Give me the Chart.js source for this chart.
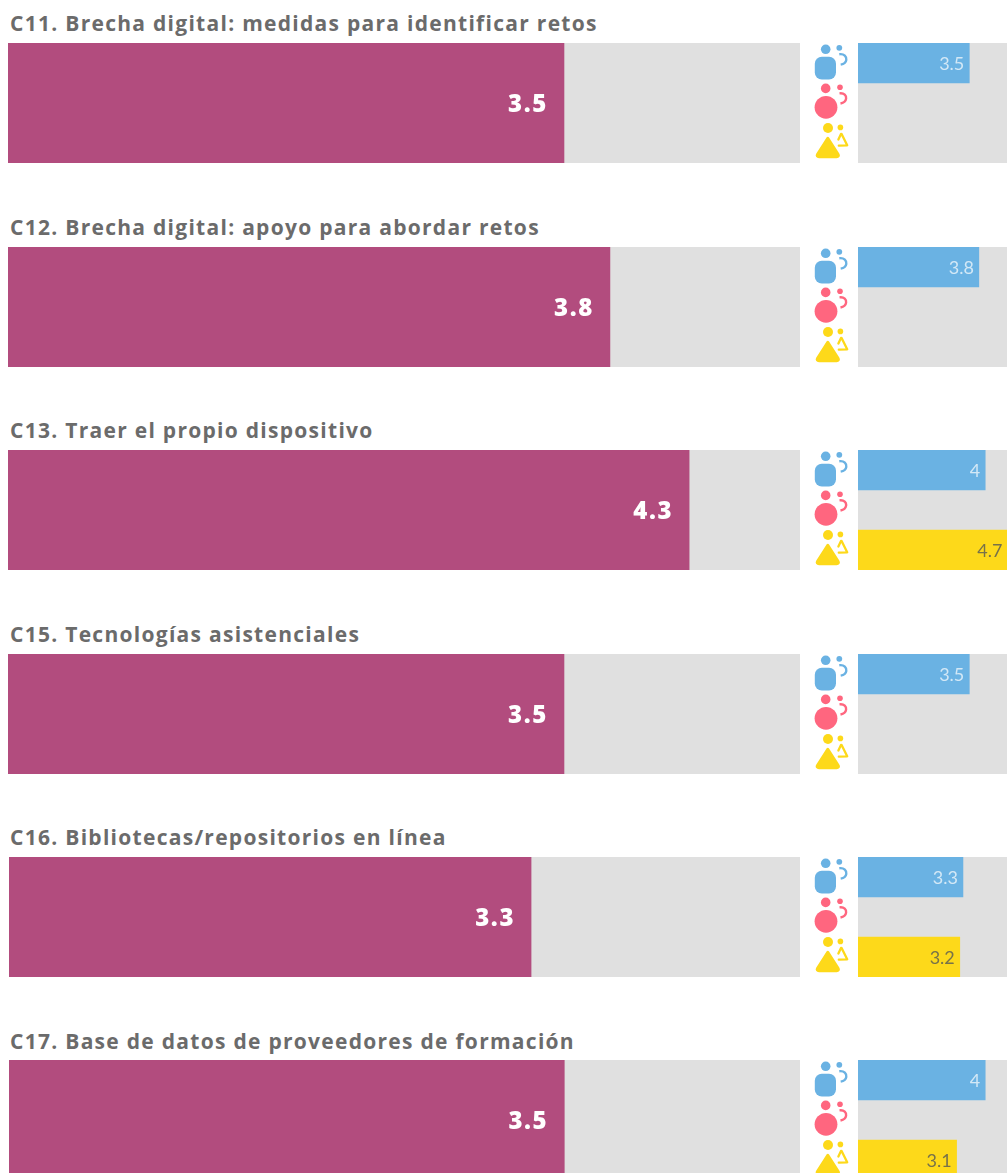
<!DOCTYPE html>
<html lang="es">
<head>
<meta charset="utf-8">
<title>Brecha digital</title>
<script src="https://cdn.jsdelivr.net/npm/chart.js@4"></script>
<style>
html,body{margin:0;padding:0;background:#fff;width:1007px;height:1173px;overflow:hidden}
#page{position:relative;width:1007px;height:1173px;overflow:hidden}
canvas{position:absolute;display:block}
.t{position:absolute;left:10px;font:700 21px/24px "Open Sans",sans-serif;letter-spacing:1.28px;color:#6b6b6b;white-space:nowrap}
svg.i{position:absolute;left:810px;width:42px;height:120px;overflow:visible}
</style>
</head>
<body>
<div id="page"></div>
<svg width="0" height="0" style="position:absolute">
<defs>
<symbol id="icons" viewBox="810 43 42 120" overflow="visible">
<g fill="#6ab2e3"><circle cx="825.7" cy="49.3" r="4.8"/><circle cx="839.3" cy="47.8" r="2.9"/><rect x="814.8" y="56.8" width="21.2" height="22.8" rx="7"/><path d="M839.3 54.2c5-.7 7.4 2.6 7 5.6-.3 2.4-2.2 4.2-5.6 4.8" fill="none" stroke="#6ab2e3" stroke-width="2.4"/></g>
<g fill="#ff667f"><circle cx="825.7" cy="88.4" r="4.8"/><circle cx="840" cy="87.3" r="2.8"/><circle cx="826" cy="107.3" r="11.4"/><path d="M839.5 93.4c4.8-.6 7 2.4 6.6 5.2-.3 2.4-2.2 4.2-5.6 4.9" fill="none" stroke="#ff667f" stroke-width="2.4"/></g>
<g fill="#fdd91a"><circle cx="828" cy="128" r="5"/><circle cx="840.4" cy="127.4" r="2.8"/><path d="M827.8 138 838.2 154.2c1 1.6.2 2.7-1.6 2.7h-17.6c-1.8 0-2.6-1.1-1.6-2.7z" stroke="#fdd91a" stroke-width="2.6" stroke-linejoin="round"/><path d="M841 134 838.4 139.5M841.6 134l5.6 11.3-8.4.3" fill="none" stroke="#fdd91a" stroke-width="2.3" stroke-linecap="round" stroke-linejoin="round"/></g>
</symbol>
</defs>
</svg>
<script>
const titles = [
  "C11. Brecha digital: medidas para identificar retos",
  "C12. Brecha digital: apoyo para abordar retos",
  "C13. Traer el propio dispositivo",
  "C15. Tecnologías asistenciales",
  "C16. Bibliotecas/repositorios en línea",
  "C17. Base de datos de proveedores de formación"
];
const overallValues = [3.51, 3.8, 4.3, 3.51, 3.3, 3.51];
const blueGroupValues = [3.5, 3.8, 4, 3.5, 3.3, 4];
const pinkGroupValues = [null, null, null, null, null, null];
const yellowGroupValues = [null, null, 4.7, null, 3.2, 3.1];
const groupCategories = ["Grupo azul", "Grupo rosa", "Grupo amarillo"];
const scaleMin = 0;
const scaleMax = 5;

const PURPLE = "#b24c7e", TRACK = "#e0e0e0", BLUE = "#6ab2e3", PINK = "#ff667f", YELLOW = "#fdd91a";
const rowTops = [43, 247, 450, 654, 857, 1060];
const titleTops = [11, 215, 418, 622, 825, 1029];
const leftEdges = [8, 8, 8, 8, 9, 9];
const page = document.getElementById("page");

const trackPlugin = {
  id: "track",
  beforeDatasetsDraw(c) {
    const a = c.chartArea;
    c.ctx.save();
    c.ctx.fillStyle = TRACK;
    c.ctx.fillRect(a.left, a.top, a.right - a.left, a.bottom - a.top);
    c.ctx.restore();
  }
};
const valueLabelPlugin = {
  id: "valueLabel",
  afterDatasetsDraw(c, args, o) {
    const ctx = c.ctx;
    const meta = c.getDatasetMeta(0);
    const data = c.data.datasets[0].data;
    ctx.save();
    ctx.font = o.font;
    ctx.letterSpacing = o.spacing;
    ctx.textAlign = "right";
    ctx.textBaseline = "middle";
    meta.data.forEach((bar, i) => {
      if (data[i] === null) return;
      ctx.fillStyle = o.colors[i];
      ctx.fillText(String(Number(data[i].toFixed(1))), bar.x - o.pad, bar.y + o.dy);
    });
    ctx.restore();
  }
};

function makeChart(left, top, width, labels, values, colors, label) {
  const cv = document.createElement("canvas");
  cv.style.left = left + "px";
  cv.style.top = top + "px";
  cv.width = width;
  cv.height = 120;
  cv.style.width = width + "px";
  cv.style.height = "120px";
  page.appendChild(cv);
  return new Chart(cv, {
    type: "bar",
    data: { labels, datasets: [{ data: values, backgroundColor: colors, borderWidth: 0, categoryPercentage: 1, barPercentage: 1 }] },
    plugins: [trackPlugin, valueLabelPlugin],
    options: {
      indexAxis: "y",
      responsive: false,
      animation: false,
      layout: { padding: 0 },
      scales: {
        x: { display: false, min: scaleMin, max: scaleMax },
        y: { display: false }
      },
      plugins: { legend: { display: false }, tooltip: { enabled: false }, valueLabel: label }
    }
  });
}

titles.forEach((title, r) => {
  const t = document.createElement("div");
  t.className = "t";
  t.style.top = titleTops[r] + "px";
  t.textContent = title;
  page.appendChild(t);

  makeChart(leftEdges[r], rowTops[r], 800 - leftEdges[r], [title], [overallValues[r]], [PURPLE],
    { font: '800 24px "Open Sans",sans-serif', spacing: "1.6px", colors: ["#ffffff"], pad: 16, dy: 2 });

  const ns = "http://www.w3.org/2000/svg";
  const svg = document.createElementNS(ns, "svg");
  svg.setAttribute("class", "i");
  svg.style.top = rowTops[r] + "px";
  const use = document.createElementNS(ns, "use");
  use.setAttribute("href", "#icons");
  use.setAttribute("width", 42);
  use.setAttribute("height", 120);
  svg.appendChild(use);
  page.appendChild(svg);

  makeChart(858, rowTops[r], 159, groupCategories,
    [blueGroupValues[r], pinkGroupValues[r], yellowGroupValues[r]],
    [BLUE, PINK, YELLOW],
    { font: '400 18px "Lato","Open Sans",sans-serif', spacing: "0px", colors: ["#d3e8f6", "#ffffff", "#77724a"], pad: 5, dy: 1 });
});
</script>
</body>
</html>
